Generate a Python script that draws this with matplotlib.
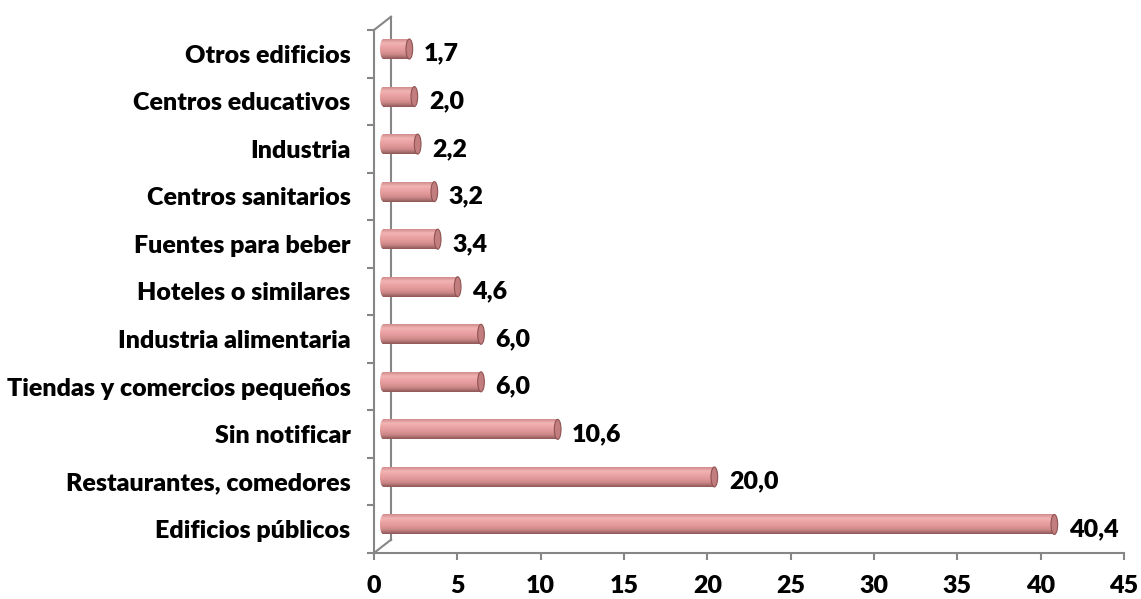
import numpy as np
import matplotlib
matplotlib.use('Agg')
import matplotlib.pyplot as plt
from matplotlib.colors import LinearSegmentedColormap
from matplotlib.patches import Ellipse

categorias = ['Edificios públicos', 'Restaurantes, comedores', 'Sin notificar',
              'Tiendas y comercios pequeños', 'Industria alimentaria',
              'Hoteles o similares', 'Fuentes para beber', 'Centros sanitarios',
              'Industria', 'Centros educativos', 'Otros edificios']
valores = [40.4, 20.0, 10.6, 6.0, 6.0, 4.6, 3.4, 3.2, 2.2, 2.0, 1.7]
xticks = [0, 5, 10, 15, 20, 25, 30, 35, 40, 45]

plt.rcParams['font.family'] = ['Lato', 'DejaVu Sans']
gris = '#868686'
fs = 18
peso = 'heavy'

fig = plt.figure(figsize=(11.41, 5.99), dpi=100)
ax = fig.add_axes([374/1141, 46/599, 750/1141, 523/599])

# cylinder shading, top to bottom
cmap = LinearSegmentedColormap.from_list(
    'cil', ['#d08c8c', '#f2b4b4', '#eba3a3', '#e09797', '#c98585', '#8c5656'])
grad = np.linspace(0, 1, 64).reshape(-1, 1)

h = 0.42   # bar thickness
r = 0.2    # cap half width (data units)
x0 = 0.56  # 3d offset of the bars
dy = 0.1

for i, v in enumerate(valores):
    y = i + dy
    b = v + 0.42
    ax.imshow(grad, cmap=cmap, aspect='auto', extent=[x0, b, y - h/2, y + h/2],
              interpolation='bicubic', zorder=2)
    cap_l = Ellipse((x0, y), 2*r, h, facecolor='none', edgecolor='none')
    ax.add_patch(cap_l)
    im = ax.imshow(grad, cmap=cmap, aspect='auto', extent=[x0 - r, x0, y - h/2, y + h/2],
                   interpolation='bicubic', zorder=2)
    im.set_clip_path(cap_l)
    ax.add_patch(Ellipse((b, y), 2*r, h, facecolor='#c27e7e', edgecolor='#8f5252',
                         lw=0.8, zorder=3))
    ax.annotate(f'{v:.1f}'.replace('.', ','), xy=(b + r, i), xytext=(8, 0),
                textcoords='offset points', va='center', ha='left',
                fontsize=fs, fontweight=peso)

ax.set_xlim(0, 45)
ax.set_ylim(-0.5, 10.5)

# axes and 3d wall
for s in ['top', 'right']:
    ax.spines[s].set_visible(False)
for s in ['left', 'bottom']:
    ax.spines[s].set_color(gris)
    ax.spines[s].set_linewidth(1.5)
wx, wy = 1.02, 0.28
ax.plot([wx, wx], [-0.5 + wy, 10.5 + wy], color=gris, lw=1.5, clip_on=False, zorder=1)
ax.plot([0, wx], [-0.5, -0.5 + wy], color=gris, lw=1.5, clip_on=False, zorder=1)
ax.plot([0, wx], [10.5, 10.5 + wy], color=gris, lw=1.5, clip_on=False, zorder=1)

ax.set_xticks(xticks)
ax.set_xticklabels([str(t) for t in xticks], fontsize=fs, fontweight=peso)
ax.tick_params(axis='x', direction='out', length=5, width=1.5, color=gris, pad=11)

ax.set_yticks(range(len(categorias)))
ax.set_yticklabels(categorias, fontsize=fs, fontweight=peso)
ax.set_yticks(np.arange(-0.5, 11, 1), minor=True)
ax.tick_params(axis='y', which='major', length=0, pad=17)
ax.tick_params(axis='y', which='minor', direction='out', length=5, width=1.5, color=gris)

fig.savefig('out.png', dpi=100)
